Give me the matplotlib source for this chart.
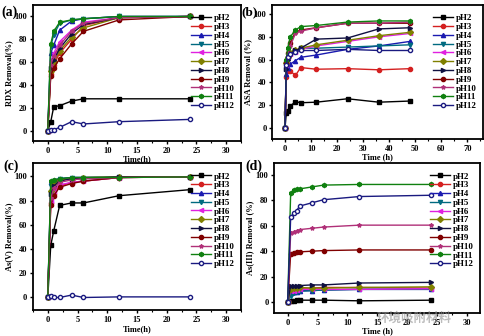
import matplotlib.pyplot as plt
import numpy as np
from matplotlib.ticker import AutoMinorLocator

plt.rcParams['font.family'] = ['Liberation Serif', 'DejaVu Serif']
plt.rcParams['font.weight'] = 'bold'

labels = ['pH2', 'pH3', 'pH4', 'pH5', 'pH6', 'pH7', 'pH8', 'pH9', 'pH10', 'pH11', 'pH12']

# (a) RDX
t_a = [0, 0.5, 1, 2, 4, 6, 12, 24]
rdx = [
    [0, 8, 21, 22, 26, 28, 28, 28],
    [0, 50, 58, 68, 80, 92, 99, 100],
    [0, 68, 75, 88, 96, 98, 100, 100],
    [0, 74, 84, 94, 97, 98, 100, 100],
    [0, 60, 68, 78, 88, 95, 99, 100],
    [0, 52, 60, 70, 82, 90, 99, 100],
    [0, 55, 62, 72, 85, 93, 99, 100],
    [0, 48, 55, 63, 76, 87, 97, 100],
    [0, 58, 65, 75, 87, 94, 99, 100],
    [0, 76, 87, 95, 97, 98, 100, 100],
    [0, 1, 1, 3, 8, 6, 8, 10],
]

# (b) ASA
t_b = [0, 0.5, 1, 2, 4, 6, 12, 24, 36, 48]
asa = [
    [0, 13, 15, 19, 23, 22, 22.5, 25.5, 22.5, 23.5],
    [0, 45, 50, 50, 46, 53, 51.5, 52, 51, 52],
    [0, 47, 53, 56, 59, 62, 64, 69, 72, 76],
    [0, 58, 63, 66, 67, 70, 70, 71, 72, 73],
    [0, 55, 62, 65, 67, 69, 72, 76, 80, 83],
    [0, 57, 62, 66, 68, 70, 73, 77, 81, 84],
    [0, 52, 60, 65, 68, 70, 78, 79, 87, 88],
    [0, 58, 66, 75, 84, 86, 88, 92, 92, 92],
    [0, 55, 64, 72, 83, 85, 88, 92, 92, 93],
    [0, 60, 70, 80, 86, 89, 90, 93, 94, 94],
    [0, 55, 62, 65, 67, 68, 68, 69, 68, 68],
]

# (c) As(V)
t_c = [0, 0.5, 1, 2, 4, 6, 12, 24]
as5 = [
    [0, 43, 55, 76, 78, 78, 84, 89],
    [0, 78, 85, 92, 95, 96, 99, 99.5],
    [0, 95, 97, 98, 99, 99, 99.5, 99.5],
    [0, 92, 96, 98, 99, 99, 99.5, 99.5],
    [0, 80, 88, 93, 95, 96, 99, 99.5],
    [0, 88, 94, 97, 98, 99, 99.5, 99.5],
    [0, 85, 92, 96, 98, 98, 99.5, 99.5],
    [0, 76, 84, 91, 94, 96, 99, 99.5],
    [0, 82, 90, 95, 97, 98, 99, 99.5],
    [0, 96, 97, 98, 99, 99, 99, 99.5],
    [0, 1, 0, 0, 2, 0, 0.5, 0.5],
]

# (d) As(III)
t_d = [0, 0.5, 1, 1.5, 2, 4, 6, 12, 24]
as3 = [
    [0, 1, 0.5, 1.5, 1.5, 1.5, 1.5, 1, 1.5],
    [0, 11, 10.5, 11, 11, 11, 11.5, 11.5, 11],
    [0, 7, 8, 8, 9, 9, 9.5, 10, 10],
    [0, 5, 7, 8, 8.5, 9, 9.5, 10, 10],
    [0, 9, 9, 9.5, 10, 10, 10, 10, 10.5],
    [0, 10, 11, 11, 11.5, 11, 11, 11.5, 12],
    [0, 13, 12.5, 13, 13, 13.5, 13.5, 15, 15.5],
    [0, 38, 38.5, 39, 39.5, 40, 40.5, 41, 41],
    [0, 54, 55, 56, 57, 58, 59, 60.5, 60.5],
    [0, 86, 88, 89, 89, 90.5, 92, 92.5, 92.5],
    [0, 67, 70, 72, 75.5, 78, 80.5, 83, 84],
]

colors = ['#000000', '#d42020', '#1a1ab0', '#006a80', '#e020e0', '#808000',
          '#101040', '#800000', '#b03078', '#108010', '#1a1a80']
markers = ['s', 'o', '^', 'v', '<', 'D', '>', 'o', '*', 'h', 'o']


def panel(rect, t, data, xlim, ylim, xticks, xlabel, ylabel):
    ax = fig.add_axes(rect)
    ax.patch.set_alpha(0)
    for i in range(len(labels)):
        face = 'white' if labels[i] == 'pH12' else colors[i]
        ax.plot(t, data[i], color=colors[i], marker=markers[i], ms=3,
                mfc=face, mec=colors[i], lw=1, label=labels[i])
    ax.set_xlim(xlim)
    ax.set_ylim(ylim)
    ax.set_xticks(xticks)
    ax.set_yticks([0, 20, 40, 60, 80, 100])
    ax.xaxis.set_minor_locator(AutoMinorLocator(2))
    ax.tick_params(labelsize=6, width=1, length=2.5, pad=1.5, direction='out',
                   top=False, right=False)
    ax.tick_params(which='minor', length=1.5, width=0.8)
    for s in ax.spines.values():
        s.set_linewidth(1.3)
    ax.set_xlabel(xlabel, fontsize=6, fontweight='bold', labelpad=0.5)
    ax.set_ylabel(ylabel, fontsize=6, fontweight='bold', labelpad=1)
    ax.legend(loc='upper right', frameon=False, fontsize=6.5,
              handlelength=2.2, labelspacing=0.05, borderaxespad=0.3,
              handletextpad=0.3, bbox_to_anchor=(1.0, 0.98))
    return ax


fig = plt.figure(figsize=(4.84, 3.36), dpi=100)

panel([0.068, 0.58, 0.43, 0.405], t_a, rdx, (-2.5, 32.5), (-9, 110),
      [0, 5, 10, 15, 20, 25, 30], 'Time(h)', 'RDX Removal(%)')
panel([0.562, 0.586, 0.436, 0.399], t_b, asa, (-5, 76), (-10, 108),
      [0, 10, 20, 30, 40, 50, 60, 70], 'Time (h)', 'ASA Removal (%)')
panel([0.068, 0.076, 0.43, 0.439], t_c, as5, (-2.5, 32.5), (-10.7, 111),
      [0, 5, 10, 15, 20, 25, 30], 'Time(h)', 'As(V) Removal(%)')
panel([0.566, 0.068, 0.426, 0.447], t_d, as3, (-2.3, 32.2), (-8.7, 109.4),
      [0, 5, 10, 15, 20, 25, 30], 'Time (h)', 'As(III) Removal (%)')

fig.text(0.002, 0.965, '(a)', fontsize=10, fontweight='bold', va='center')
fig.text(0.498, 0.963, '(b)', fontsize=9.5, fontweight='bold', va='center')
fig.text(0.006, 0.505, '(c)', fontsize=10, fontweight='bold', va='center')
fig.text(0.506, 0.505, '(d)', fontsize=10, fontweight='bold', va='center')

# watermark
fig.text(0.855, 0.052, '环境吸附材料', fontsize=9, color='#909090', alpha=0.6,
         family=['Noto Sans CJK SC', 'DejaVu Sans'], ha='center', va='center')

fig.savefig('out.png', dpi=100)
